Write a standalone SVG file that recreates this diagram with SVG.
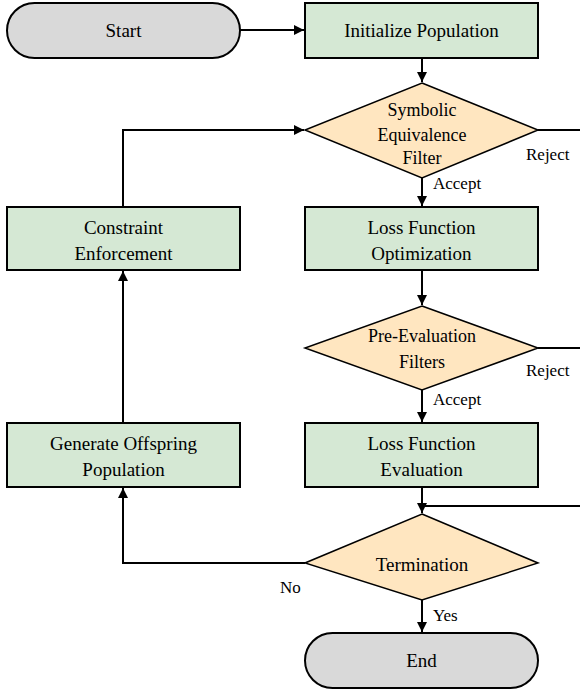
<svg xmlns="http://www.w3.org/2000/svg" width="580" height="696" viewBox="0 0 580 696" font-family="Liberation Serif, Times New Roman, serif">
<defs>
<marker id="arr" viewBox="0 0 10 10" refX="10" refY="5" markerWidth="10" markerHeight="10" markerUnits="userSpaceOnUse" orient="auto">
<path d="M0,0 L10,5 L0,10 z" fill="#000"/>
</marker>
<style>
.term{fill:#d9d9d9;stroke:#000;stroke-width:2}
.proc{fill:#d5e8d4;stroke:#000;stroke-width:2}
.dec{fill:#ffe6c0;stroke:#000;stroke-width:1.5}
text{font-family:"Liberation Serif","Times New Roman",serif;fill:#000}
.t{font-size:19px;text-anchor:middle}
.d{font-size:18px;text-anchor:middle}
.l{font-size:17px}
.c{fill:none;stroke:#000;stroke-width:2}
</style>
</defs>
<rect width="580" height="696" fill="#fff"/>
<g id="connectors">
<line class="c" x1="240" y1="30" x2="304" y2="30" marker-end="url(#arr)"/>
<line class="c" x1="422" y1="58" x2="422" y2="82" marker-end="url(#arr)"/>
<line class="c" x1="422" y1="178" x2="422" y2="206" marker-end="url(#arr)"/>
<line class="c" x1="422" y1="270" x2="422" y2="305" marker-end="url(#arr)"/>
<line class="c" x1="422" y1="390" x2="422" y2="422" marker-end="url(#arr)"/>
<line class="c" x1="422" y1="487" x2="422" y2="513" marker-end="url(#arr)"/>
<line class="c" x1="422" y1="600" x2="422" y2="632" marker-end="url(#arr)"/>
<polyline class="c" points="123,207 123,130 304,130" marker-end="url(#arr)"/>
<line class="c" x1="123" y1="423" x2="123" y2="271" marker-end="url(#arr)"/>
<polyline class="c" points="305,563 123,563 123,488" marker-end="url(#arr)"/>
<line class="c" x1="538" y1="130" x2="580" y2="130"/>
<line class="c" x1="538" y1="348" x2="580" y2="348"/>
<line class="c" x1="422" y1="506" x2="580" y2="506"/>
<text class="l" x="526" y="160">Reject</text>
<text class="l" x="433" y="189">Accept</text>
<text class="l" x="526" y="376">Reject</text>
<text class="l" x="433" y="405">Accept</text>
<text class="l" x="280" y="593">No</text>
<text class="l" x="433" y="621">Yes</text>
</g>
<g id="start">
<rect class="term" x="7" y="3" width="233" height="55" rx="27.5"/>
<text class="t" x="123.5" y="37">Start</text>
</g>
<g id="init">
<rect class="proc" x="305" y="3" width="233" height="55"/>
<text class="t" x="421.5" y="37">Initialize Population</text>
</g>
<g id="symfilter">
<polygon class="dec" points="422,83 538,130 422,178 305,130"/>
<text class="d" x="422" y="116">Symbolic</text>
<text class="d" x="422" y="141">Equivalence</text>
<text class="d" x="422" y="164">Filter</text>
</g>
<g id="constraint">
<rect class="proc" x="7" y="207" width="233" height="63"/>
<text class="t" x="123.5" y="234">Constraint</text>
<text class="t" x="123.5" y="260">Enforcement</text>
</g>
<g id="lossopt">
<rect class="proc" x="305" y="207" width="233" height="63"/>
<text class="t" x="421.5" y="234">Loss Function</text>
<text class="t" x="421.5" y="260">Optimization</text>
</g>
<g id="prefilter">
<polygon class="dec" points="422,306 538,348 422,390 305,348"/>
<text class="d" x="422" y="342">Pre-Evaluation</text>
<text class="d" x="422" y="368">Filters</text>
</g>
<g id="offspring">
<rect class="proc" x="7" y="423" width="233" height="64"/>
<text class="t" x="123.5" y="450">Generate Offspring</text>
<text class="t" x="123.5" y="476">Population</text>
</g>
<g id="losseval">
<rect class="proc" x="305" y="423" width="233" height="64"/>
<text class="t" x="421.5" y="450">Loss Function</text>
<text class="t" x="421.5" y="476">Evaluation</text>
</g>
<g id="termination">
<polygon class="dec" points="422,514 538,563 422,600 305,563"/>
<text class="t" x="422" y="571">Termination</text>
</g>
<g id="end">
<rect class="term" x="305" y="633" width="233" height="55" rx="27.5"/>
<text class="t" x="421.5" y="667">End</text>
</g>
</svg>
